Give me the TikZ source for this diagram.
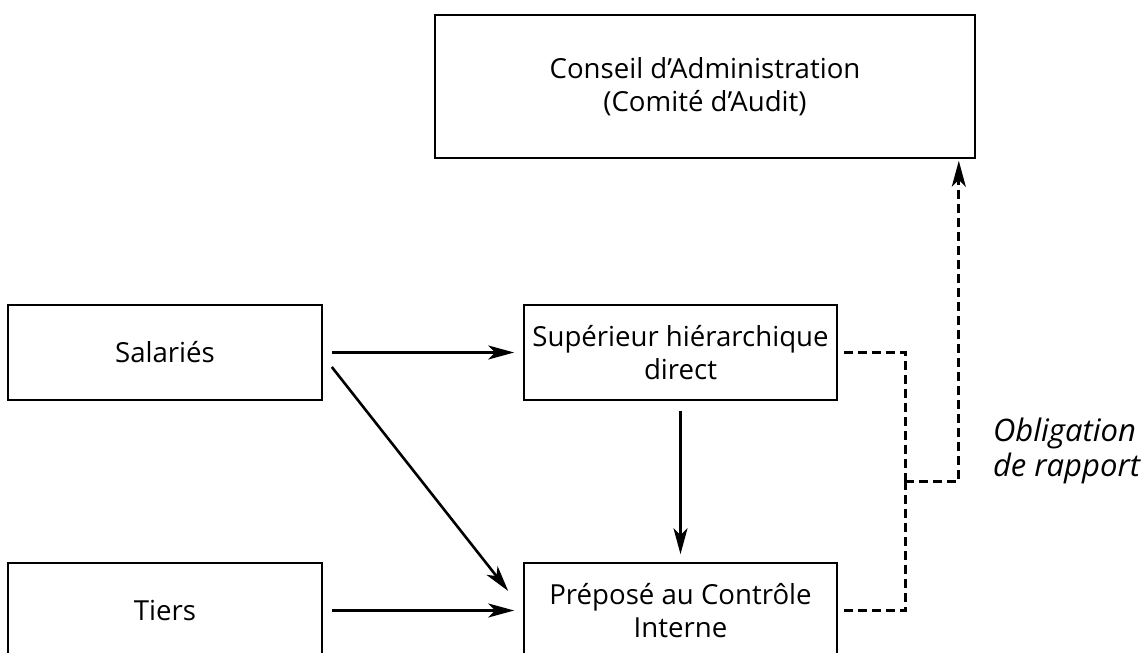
\documentclass[tikz,border=0pt]{standalone}
\usepackage{fontspec}
\setmainfont{Open Sans}
\usetikzlibrary{arrows.meta,calc}

\tikzset{
  box/.style={draw, line width=0.8pt, minimum width=157pt, minimum height=47.5pt,
    align=center, inner sep=0pt, font=\fontsize{13.8}{16.8}\selectfont},
  tip/.style={-{Stealth[length=13pt,width=7pt,inset=3.5pt]}},
  flow/.style={line width=1.3pt, tip, shorten <=4.5pt, shorten >=4.5pt},
  report/.style={line width=1.5pt, dash pattern=on 4.5pt off 2.5pt}
}

\begin{document}
\begin{tikzpicture}[x=0.5pt,y=-0.5pt]
  \useasboundingbox (0,0) rectangle (1142,653);

  % boxes
  \node[box, minimum width=270pt, minimum height=71.5pt] (conseil) at (705,86.5)
    {Conseil d'Administration\\(Comité d'Audit)};
  \node[box] (salaries) at (165,352.5) {Salariés};
  \node[box] (tiers) at (165,610.5) {Tiers};
  \node[box, minimum width=156.5pt] (superieur) at (680.5,352.5)
    {Supérieur hiérarchique\\direct};
  \node[box, minimum width=156.5pt] (prepose) at (680.5,610.5)
    {Préposé au Contrôle\\Interne};

  % hierarchy
  \draw[flow] (salaries.east) -- (superieur.west);
  \draw[flow] (tiers.east) -- (prepose.west);
  \draw[flow, shorten <=0pt, shorten >=0pt]
    ([shift={(9,14.5)}]salaries.east) -- ([shift={(-15,-19.5)}]prepose.west);
  \draw[flow, shorten <=5pt, shorten >=4pt] (superieur.south) -- (prepose.north);

  % reporting duty
  \coordinate (bus) at (905,481);
  \draw[report] ([xshift=3pt]superieur.east) -| (bus);
  \draw[report] ([xshift=3pt]prepose.east) -| (bus);
  \draw[report, tip, shorten >=1pt]
    (bus) -| ([xshift=-8.5pt]conseil.south east);
  \node[anchor=west, align=left, font=\fontsize{15.5}{17.5}\selectfont\itshape]
    (obligation) at (986,451) {Obligation\\de rapport};
\end{tikzpicture}
\end{document}
